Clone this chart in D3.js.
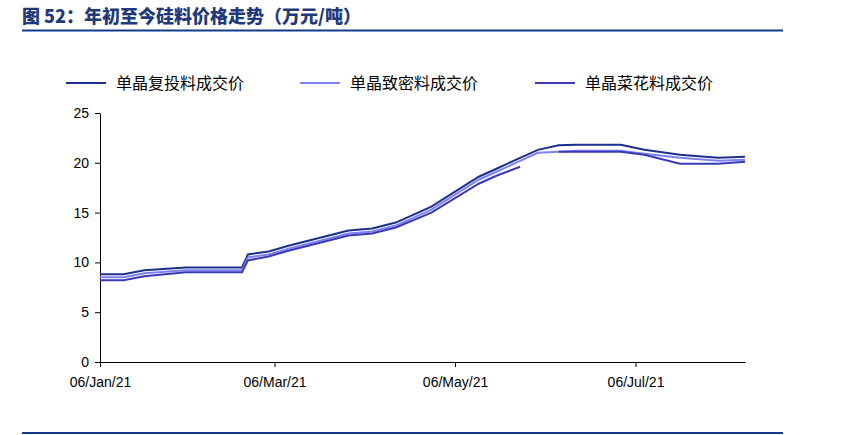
<!DOCTYPE html><html><head><meta charset="utf-8"><script src="https://d3js.org/d3.v7.min.js"></script>
<style>body{margin:0;background:#fff}</style></head><body><svg id="c" width="843" height="435"></svg><script>
const dates=["2021-01-06","2021-01-14","2021-01-21","2021-02-04","2021-02-23","2021-02-25","2021-03-04","2021-03-11","2021-03-31","2021-04-08","2021-04-16","2021-04-28","2021-05-14","2021-05-20","2021-05-28","2021-06-03","2021-06-10","2021-06-16","2021-07-01","2021-07-09","2021-07-21","2021-08-03","2021-08-12"];
const fuTou=[8.8,8.8,9.2,9.5,9.5,10.8,11.1,11.7,13.2,13.4,14.0,15.6,18.6,19.4,20.5,21.3,21.75,21.8,21.8,21.3,20.8,20.5,20.6];
const zhiMi=[8.5,8.5,8.9,9.2,9.2,10.5,10.8,11.4,12.9,13.1,13.7,15.3,18.3,19.1,20.2,21.0,21.1,21.2,21.2,20.9,20.5,20.2,20.3];
const caiHua=[8.2,8.2,8.6,9.0,9.0,10.2,10.6,11.2,12.7,12.9,13.5,15.0,17.9,18.7,19.6,null,21.1,21.1,21.1,20.8,19.9,19.9,20.1];
const names=["单晶复投料成交价","单晶致密料成交价","单晶菜花料成交价"];
const colors=["#1c2f8c","#8080f4","#3a3ab8"];
const yTicks=[0,5,10,15,20,25];
const xTickDates=["2021-01-06","2021-03-06","2021-05-06","2021-07-06"];
const pt=d3.timeParse("%Y-%m-%d");
const svg=d3.select("#c"),F="'Noto Sans CJK SC',sans-serif";
svg.append("text").attr("x",22).attr("y",23).attr("font-family",F).attr("font-weight","900").attr("font-size",18).attr("fill","#1f3a7a").text("图 52：年初至今硅料价格走势（万元/吨）");
svg.append("line").attr("x1",22).attr("x2",783).attr("y1",30.5).attr("y2",30.5).attr("stroke","#123a8c").attr("stroke-width",2);
const x=d3.scaleTime().domain([pt("2021-01-06"),pt("2021-08-12")]).range([100,745]);
const y=d3.scaleLinear().domain([0,25]).range([362,113]);
const ya=svg.append("g").attr("transform","translate(100,0)").call(d3.axisLeft(y).tickValues(yTicks).tickSize(5).tickSizeOuter(0).tickPadding(6));
ya.selectAll("text").attr("font-family","Arial").attr("font-size",14).attr("fill","#000");
const xa=svg.append("g").attr("transform","translate(0,362)").call(d3.axisBottom(x).tickValues(xTickDates.map(pt)).tickSize(5).tickSizeOuter(0).tickPadding(10).tickFormat(d3.timeFormat("%d/%b/%y")));
xa.selectAll("text").attr("font-family","Arial").attr("font-size",14).attr("fill","#000");
svg.selectAll(".domain,.tick line").attr("stroke","#000");
[fuTou,zhiMi,caiHua].forEach((s,i)=>{
 const line=d3.line().defined(d=>d[1]!=null).x(d=>x(pt(d[0]))).y(d=>y(d[1]));
 svg.append("path").datum(dates.map((d,j)=>[d,s[j]])).attr("d",line).attr("fill","none").attr("stroke",colors[i]).attr("stroke-width",2);
 const lx=[66,300,535][i];
 svg.append("line").attr("x1",lx).attr("x2",lx+40).attr("y1",83).attr("y2",83).attr("stroke",colors[i]).attr("stroke-width",2);
 svg.append("text").attr("x",lx+50).attr("y",89).attr("font-family",F).attr("font-size",16).attr("fill","#000").text(names[i]);
});
svg.append("line").attr("x1",22).attr("x2",783).attr("y1",433).attr("y2",433).attr("stroke","#123a8c").attr("stroke-width",2);
</script></body></html>
